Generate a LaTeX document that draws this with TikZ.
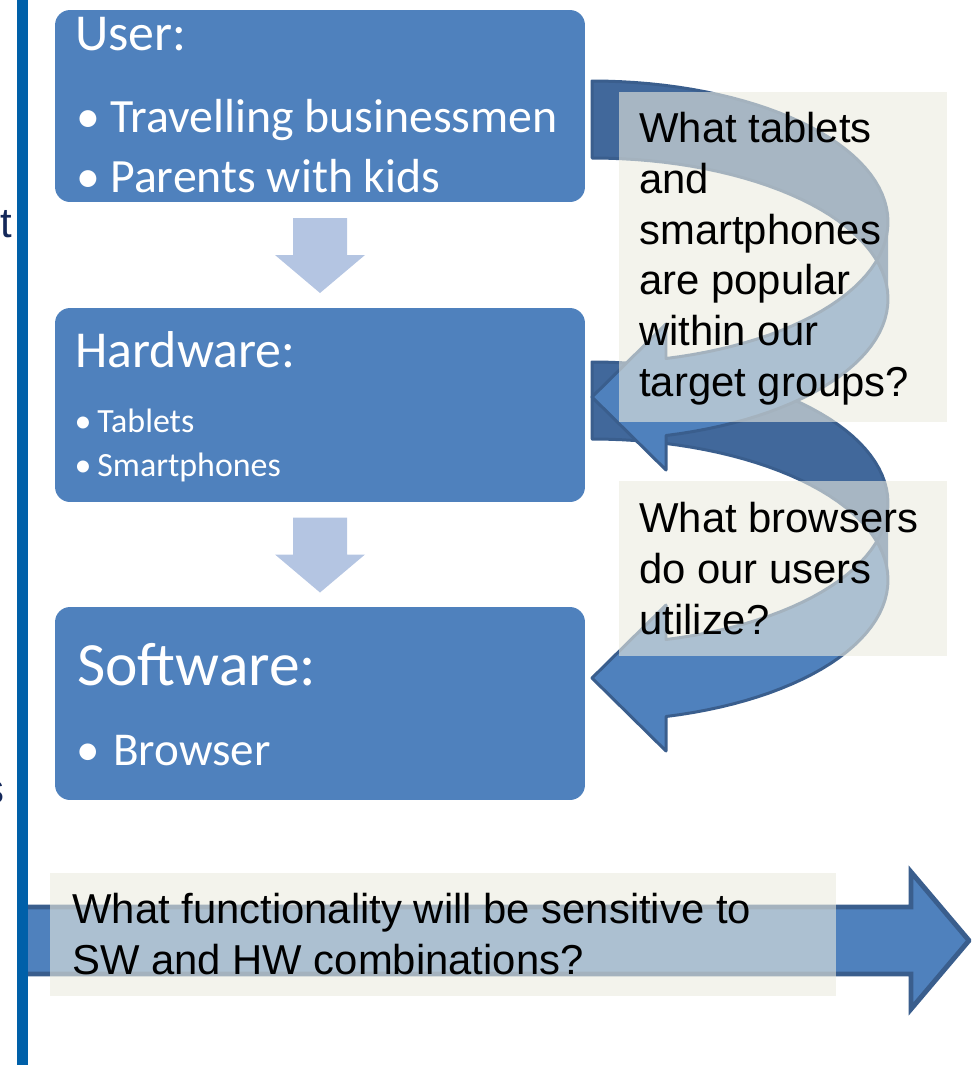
\documentclass[tikz,border=0pt]{standalone}
\usepackage{fontspec}
\setmainfont{Liberation Sans}
\newfontfamily\calibri{Carlito}
\usetikzlibrary{calc}

\definecolor{stageblue}{RGB}{79,129,189}
\definecolor{stepblue}{RGB}{180,197,226}
\definecolor{backblue}{RGB}{65,104,155}
\definecolor{edgeblue}{RGB}{58,94,141}
\definecolor{railblue}{RGB}{0,96,169}
\definecolor{notefill}{RGB}{235,235,223}
\definecolor{navytext}{RGB}{20,40,90}

\tikzset{
  stagebox/.style={fill=stageblue, rounded corners=0.3cm, inner sep=0pt},
  stagetext/.style={text=white, inner sep=0pt, anchor=base west,
    font=\calibri\fontsize{#1}{#1}\selectfont},
  stagedot/.style={text=white, inner sep=0pt, anchor=base,
    font=\calibri\fontsize{#1}{#1}\selectfont},
  askbox/.style={fill=notefill, fill opacity=0.6, inner sep=0pt, anchor=north west},
  asktext/.style={anchor=north west, inner sep=0pt, align=left,
    font=\fontsize{23.8}{28.9}\selectfont},
  swooshedge/.style={draw=edgeblue, line width=1.7pt, line join=round},
}

% curved block arrow, #1 = top of its tail
\def\arrL{592}
\def\arrW{296}
\def\arrTh{77}
\def\arrR{141}
\def\arrHead{74}
\def\arrWide{146}
\newcommand{\swoosh}[1]{%
  \pgfmathsetmacro\upC{#1+\arrR}%
  \pgfmathsetmacro\loC{#1+\arrR+\arrTh}%
  \pgfmathsetmacro\tailB{#1+\arrTh}%
  \pgfmathsetmacro\headX{\arrL+\arrHead}%
  \pgfmathsetmacro\yFive{\upC+\arrR*sin(\arrAng)}%
  \pgfmathsetmacro\ySeven{\loC+\arrR*sin(\arrAng)}%
  \pgfmathsetmacro\yFour{\yFive-(\arrWide-\arrTh)/2}%
  \pgfmathsetmacro\yEight{\ySeven+(\arrWide-\arrTh)/2}%
  \pgfmathsetmacro\yTip{\yEight-\arrWide/2}%
  % back side
  \fill[backblue] (\arrL,#1)
    -- plot[domain=-90:0] ({\arrL+\arrW*cos(\x)},{\upC+\arrR*sin(\x)})
    -- plot[domain=0:-90] ({\arrL+\arrW*cos(\x)},{\loC+\arrR*sin(\x)})
    -- cycle;
  % front side with head
  \fill[stageblue] (\arrL,\yTip) -- (\headX,\yFour) -- (\headX,\yFive)
    -- plot[domain=\arrAng:\arrCross] ({\arrL+\arrW*cos(\x)},{\upC+\arrR*sin(\x)})
    -- plot[domain=-\arrCross:\arrAng] ({\arrL+\arrW*cos(\x)},{\loC+\arrR*sin(\x)})
    -- (\headX,\yEight) -- cycle;
  \draw[swooshedge] (\arrL,\tailB) -- (\arrL,#1)
    -- plot[domain=-90:\arrAng] ({\arrL+\arrW*cos(\x)},{\upC+\arrR*sin(\x)})
    -- (\headX,\yFour) -- (\arrL,\yTip) -- (\headX,\yEight) -- (\headX,\ySeven)
    -- plot[domain=\arrAng:-90] ({\arrL+\arrW*cos(\x)},{\loC+\arrR*sin(\x)})
    -- cycle;
}

\begin{document}
\begin{tikzpicture}[x=0.02cm, y=-0.02cm, samples=60]
  \useasboundingbox (0,0) rectangle (971,1065);
  \clip (0,0) rectangle (971,1065);
  \pgfmathsetmacro\arrAng{acos(\arrHead/\arrW)}
  \pgfmathsetmacro\arrCross{asin(\arrTh/(2*\arrR))}

  % long arrow at the bottom
  \draw[fill=stageblue, draw=edgeblue, line width=2.8pt, line join=miter]
    (22,907) -- (911,907) -- (911,872) -- (969,940.5)
    -- (911,1009) -- (911,974) -- (22,974) -- cycle;

  % the three stages
  \node[stagebox, minimum width=10.6cm, minimum height=3.84cm] (user) at (320,106) {};
  \node[stagebox, minimum width=10.6cm, minimum height=3.88cm] (hw) at (320,405) {};
  \node[stagebox, minimum width=10.6cm, minimum height=3.86cm] (sw) at (320,703.5) {};

  \node[stagetext=29.5] (usertitle) at (75,50) {User:};
  \node[stagedot=27.2] (userdotA) at (88,132) {•};
  \node[stagetext=27.2] (useritemA) at (110,132) {Travelling businessmen};
  \node[stagedot=27.2] (userdotB) at (88,192) {•};
  \node[stagetext=27.2] (useritemB) at (110,192) {Parents with kids};

  \node[stagetext=29.5] (hwtitle) at (75,367) {Hardware:};
  \node[stagedot=19.3] (hwdotA) at (83,432) {•};
  \node[stagetext=19.3] (hwitemA) at (97,432) {Tablets};
  \node[stagedot=19.3] (hwdotB) at (83,476) {•};
  \node[stagetext=19.3] (hwitemB) at (97,476) {Smartphones};

  \node[stagetext=35] (swtitle) at (77,685) {Software:};
  \node[stagedot=26.8] (swdotA) at (88,765) {•};
  \node[stagetext=26.8] (switemA) at (113,765) {Browser};

  % down arrows between the stages
  \coordinate (userhw) at ($(user.south)!0.5!(hw.north)$);
  \coordinate (hwsw) at ($(hw.south)!0.5!(sw.north)$);
  \foreach \gap in {userhw, hwsw}
    \fill[stepblue] (\gap) ++(-27,-37) -- ++(54,0) -- ++(0,37) -- ++(18,0)
      -- ++(-45,38) -- ++(-45,-38) -- ++(18,0) -- cycle;

  % curved arrows
  \swoosh{362}
  \swoosh{81}

  % questions
  \node[askbox, minimum width=6.56cm, minimum height=6.6cm] (askhw) at (619,92) {};
  \node[asktext] (askhwtext) at (639,112)
    {What tablets\\and\\smartphones\\are popular\\within our\\target groups?};
  \node[askbox, minimum width=6.56cm, minimum height=3.5cm] (asksw) at (619,481) {};
  \node[asktext] (askswtext) at (639,502)
    {What browsers\\do our users\\utilize?};
  \node[askbox, minimum width=15.72cm, minimum height=2.46cm] (askall) at (50,873) {};
  \node[asktext] (askalltext) at (72,893)
    {What functionality will be sensitive to\\SW and HW combinations?};

  % rail on the left
  \draw[railblue, line width=6.2pt] (22.5,0) -- (22.5,1065);
  \node[text=navytext, anchor=base west, inner sep=0pt,
    font=\fontsize{23.8}{28.9}\selectfont] (cutA) at (0,237) {t};
  \node[text=navytext, anchor=base east, inner sep=0pt,
    font=\fontsize{23.8}{28.9}\selectfont] (cutB) at (5,803) {s};
\end{tikzpicture}
\end{document}
